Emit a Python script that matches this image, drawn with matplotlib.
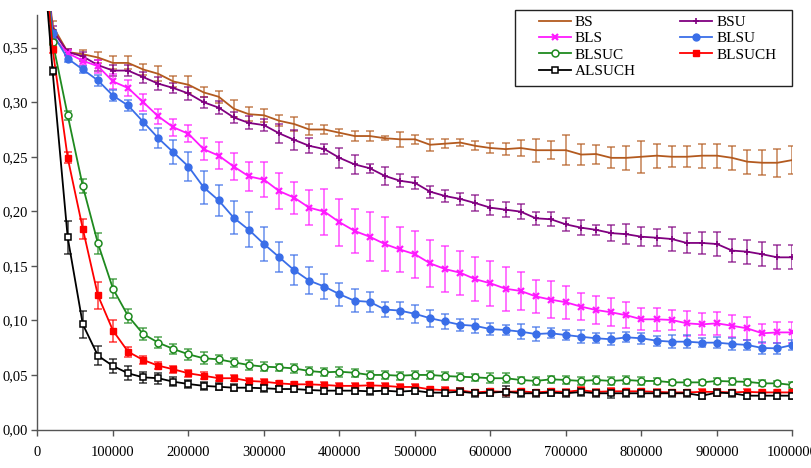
import numpy as np
import matplotlib
matplotlib.use('Agg')
import matplotlib.pyplot as plt
from matplotlib.ticker import FuncFormatter, MultipleLocator
from matplotlib.patches import Rectangle

plt.rcParams['font.family'] = ['Liberation Serif', 'DejaVu Serif']

# x positions: 0, 20000, ..., 1000000
x = np.arange(0, 1000001, 20000)

BS = [0.50, 0.370, 0.346, 0.344, 0.341, 0.336, 0.336, 0.330, 0.326, 0.319, 0.316,
      0.309, 0.305, 0.294, 0.289, 0.288, 0.283, 0.280, 0.275, 0.275, 0.272,
      0.269, 0.269, 0.267, 0.266, 0.266, 0.261, 0.262, 0.263, 0.260, 0.258,
      0.257, 0.258, 0.256, 0.256, 0.256, 0.252, 0.2525, 0.249, 0.249, 0.250,
      0.251, 0.250, 0.250, 0.251, 0.251, 0.249, 0.2455, 0.2445, 0.2445, 0.247]
BS_err = [0, 0.004, 0.003, 0.004, 0.005, 0.006, 0.006, 0.005, 0.007, 0.005, 0.008,
          0.0046, 0.0055, 0.008, 0.0064, 0.0058, 0.005, 0.006, 0.0048, 0.0037, 0.003,
          0.005, 0.005, 0.002, 0.007, 0.004, 0.0055, 0.004, 0.0035, 0.004, 0.0046,
          0.0053, 0.007, 0.0107, 0.0084, 0.0137, 0.0095, 0.0087, 0.0096, 0.011, 0.0148,
          0.011, 0.0098, 0.0098, 0.011, 0.011, 0.011, 0.011, 0.0113, 0.013, 0.0125]

BSU = [0.50, 0.366, 0.346, 0.342, 0.334, 0.329, 0.329, 0.323, 0.317, 0.313, 0.308,
       0.300, 0.295, 0.286, 0.281, 0.279, 0.2715, 0.2655, 0.260, 0.257, 0.249,
       0.243, 0.2395, 0.2325, 0.228, 0.226, 0.218, 0.214, 0.2113, 0.2075, 0.2033,
       0.2015, 0.1997, 0.1936, 0.1927, 0.188, 0.185, 0.183, 0.180, 0.179, 0.1767,
       0.1758, 0.1746, 0.171, 0.171, 0.170, 0.164, 0.163, 0.1606, 0.1578, 0.1578]
BSU_err = [0, 0.004, 0.003, 0.004, 0.005, 0.005, 0.005, 0.005, 0.006, 0.005, 0.006,
           0.005, 0.006, 0.005, 0.006, 0.0052, 0.0086, 0.009, 0.007, 0.0046, 0.009,
           0.0085, 0.004, 0.008, 0.006, 0.0055, 0.0055, 0.0055, 0.0052, 0.007, 0.0067,
           0.0066, 0.007, 0.006, 0.0064, 0.006, 0.007, 0.0046, 0.0073, 0.0093, 0.0087,
           0.008, 0.011, 0.0095, 0.0104, 0.0107, 0.0107, 0.011, 0.011, 0.011, 0.011]

BLS = [0.50, 0.360, 0.345, 0.338, 0.333, 0.319, 0.313, 0.300, 0.287, 0.277, 0.271,
       0.257, 0.251, 0.241, 0.232, 0.229, 0.2186, 0.2125, 0.2033, 0.1997, 0.190,
       0.182, 0.1767, 0.170, 0.165, 0.1606, 0.1523, 0.147, 0.1437, 0.1377, 0.134,
       0.129, 0.127, 0.122, 0.119, 0.1166, 0.1126, 0.1095, 0.1074, 0.1047, 0.101,
       0.101, 0.1004, 0.0973, 0.0964, 0.0973, 0.0951, 0.0927, 0.0882, 0.089, 0.089]
BLS_err = [0, 0.003, 0.003, 0.004, 0.006, 0.007, 0.0077, 0.0077, 0.007, 0.008, 0.0078,
           0.010, 0.0125, 0.012, 0.0133, 0.0163, 0.0165, 0.0147, 0.0163, 0.021, 0.0217,
           0.020, 0.0226, 0.025, 0.021, 0.0217, 0.0217, 0.021, 0.020, 0.020, 0.0205,
           0.020, 0.0176, 0.015, 0.017, 0.015, 0.0125, 0.0125, 0.0127, 0.0118, 0.0102,
           0.0105, 0.0095, 0.0116, 0.010, 0.0107, 0.0102, 0.0104, 0.0087, 0.0096, 0.0096]

BLSU = [0.50, 0.363, 0.340, 0.330, 0.320, 0.306, 0.297, 0.282, 0.267, 0.254, 0.241,
        0.222, 0.210, 0.194, 0.183, 0.170, 0.158, 0.146, 0.1364, 0.131, 0.124,
        0.118, 0.117, 0.110, 0.109, 0.106, 0.102, 0.099, 0.096, 0.095, 0.092,
        0.0912, 0.0897, 0.0875, 0.0882, 0.0866, 0.085, 0.0836, 0.0827, 0.0845, 0.0836,
        0.0814, 0.0805, 0.0805, 0.0796, 0.0796, 0.0784, 0.0775, 0.0747, 0.0744, 0.0775]
BLSU_err = [0, 0.003, 0.003, 0.003, 0.005, 0.005, 0.005, 0.0073, 0.009, 0.011, 0.0135,
            0.015, 0.0145, 0.015, 0.016, 0.016, 0.0135, 0.014, 0.0125, 0.0116, 0.0107,
            0.0107, 0.0093, 0.0072, 0.0076, 0.008, 0.0076, 0.0066, 0.0053, 0.0064, 0.0058,
            0.005, 0.0069, 0.0066, 0.0046, 0.0046, 0.006, 0.0047, 0.0053, 0.0046, 0.0053,
            0.0046, 0.006, 0.006, 0.004, 0.005, 0.0053, 0.0046, 0.0053, 0.005, 0.0043]

BLSUC = [0.50, 0.3555, 0.288, 0.223, 0.1707, 0.129, 0.104, 0.0875, 0.0796, 0.0738, 0.0689,
         0.0653, 0.0643, 0.0616, 0.0591, 0.0576, 0.057, 0.056, 0.0536, 0.0524, 0.053,
         0.052, 0.050, 0.050, 0.0493, 0.050, 0.050, 0.049, 0.0484, 0.0478, 0.047,
         0.047, 0.0454, 0.0445, 0.046, 0.0454, 0.0445, 0.0454, 0.0445, 0.0454, 0.0445,
         0.0445, 0.0432, 0.0432, 0.0432, 0.0445, 0.044, 0.0437, 0.0423, 0.0423, 0.0408]
BLSUC_err = [0, 0.003, 0.004, 0.0066, 0.0096, 0.0087, 0.006, 0.0053, 0.005, 0.0046, 0.005,
             0.0053, 0.004, 0.004, 0.0043, 0.0043, 0.0034, 0.0038, 0.004, 0.0038, 0.0046,
             0.0037, 0.0034, 0.0038, 0.0038, 0.0038, 0.0035, 0.0038, 0.003, 0.003, 0.0045,
             0.0046, 0.003, 0.0038, 0.003, 0.0037, 0.0038, 0.0037, 0.0038, 0.0034, 0.0035,
             0.0025, 0.0026, 0.0026, 0.0026, 0.0028, 0.0028, 0.0029, 0.0028, 0.0025, 0.0025]

BLSUCH = [0.50, 0.349, 0.249, 0.184, 0.123, 0.0906, 0.0713, 0.0637, 0.0585, 0.0552, 0.0515,
          0.0493, 0.047, 0.047, 0.0445, 0.0438, 0.0423, 0.0414, 0.0414, 0.0408, 0.040,
          0.040, 0.0405, 0.040, 0.039, 0.039, 0.0368, 0.036, 0.0357, 0.034, 0.035,
          0.0345, 0.035, 0.034, 0.035, 0.0345, 0.036, 0.0345, 0.035, 0.035, 0.035,
          0.0345, 0.034, 0.034, 0.0345, 0.0345, 0.034, 0.0345, 0.034, 0.034, 0.034]
BLSUCH_err = [0, 0.004, 0.005, 0.009, 0.0125, 0.010, 0.0046, 0.004, 0.003, 0.003, 0.003,
              0.003, 0.003, 0.003, 0.0025, 0.0025, 0.0025, 0.0025, 0.0025, 0.0025, 0.0025,
              0.0025, 0.0025, 0.0025, 0.0025, 0.0025, 0.0025, 0.0025, 0.0025, 0.0025, 0.0025,
              0.0025, 0.0025, 0.0025, 0.0025, 0.0025, 0.003, 0.0025, 0.003, 0.0025, 0.0025,
              0.0025, 0.0025, 0.0025, 0.0025, 0.0025, 0.0025, 0.0025, 0.0025, 0.0025, 0.0025]

ALSUCH = [0.50, 0.3285, 0.176, 0.0964, 0.0677, 0.0582, 0.0515, 0.0478, 0.047, 0.0438, 0.0417,
          0.040, 0.0392, 0.0383, 0.0383, 0.0378, 0.0371, 0.0371, 0.0362, 0.0356, 0.0356,
          0.0356, 0.035, 0.0356, 0.0347, 0.0356, 0.0338, 0.0338, 0.0347, 0.0332, 0.0338,
          0.0347, 0.0332, 0.0332, 0.0338, 0.0332, 0.0344, 0.0332, 0.0332, 0.0332, 0.0332,
          0.0332, 0.0332, 0.0332, 0.031, 0.0338, 0.0332, 0.031, 0.031, 0.031, 0.031]
ALSUCH_err = [0, 0.004, 0.015, 0.0125, 0.009, 0.006, 0.0064, 0.005, 0.005, 0.004, 0.004,
              0.0035, 0.003, 0.003, 0.003, 0.003, 0.003, 0.003, 0.003, 0.003, 0.003,
              0.003, 0.003, 0.003, 0.003, 0.003, 0.003, 0.003, 0.003, 0.003, 0.003,
              0.005, 0.003, 0.003, 0.003, 0.003, 0.004, 0.003, 0.004, 0.003, 0.003,
              0.003, 0.003, 0.003, 0.003, 0.003, 0.003, 0.003, 0.003, 0.003, 0.003]

series = [
    ("BS", BS, BS_err, dict(color='#B35A1F', marker=None)),
    ("BSU", BSU, BSU_err, dict(color='#800080', marker='+', ms=5, mew=1.2)),
    ("BLS", BLS, BLS_err, dict(color='#FF1AFF', marker='x', ms=4.5, mew=1.6)),
    ("BLSU", BLSU, BLSU_err, dict(color='#3A6EE8', marker='o', ms=5)),
    ("BLSUC", BLSUC, BLSUC_err, dict(color='#1F8A1F', marker='o', ms=5, mfc='white', mew=1.1)),
    ("BLSUCH", BLSUCH, BLSUCH_err, dict(color='#FF0000', marker='s', ms=5)),
    ("ALSUCH", ALSUCH, ALSUCH_err, dict(color='#000000', marker='s', ms=5, mfc='white', mew=1.1)),
]

fig = plt.figure(figsize=(8.12, 4.68), dpi=100)
ax = fig.add_axes([37.5 / 812, 1 - 429.5 / 468, 755 / 812, 418.5 / 468])

handles = {}
for name, vals, errs, st in series:
    c = st['color']
    ax.errorbar(x, vals, yerr=errs, fmt='none', ecolor=c, alpha=0.65,
                elinewidth=1.3, capsize=3.2, capthick=1.3, zorder=2)
    kw = dict(st)
    kw.pop('color')
    line, = ax.plot(x, vals, color=c, lw=1.3, zorder=3, label=name, **kw)
    handles[name] = line

ax.set_xlim(0, 1000000)
ax.set_ylim(0, 0.3836)
ax.spines['left'].set_bounds(0, 0.38)
for s in ['top', 'right']:
    ax.spines[s].set_visible(False)
for s in ['left', 'bottom']:
    ax.spines[s].set_color('#555555')
    ax.spines[s].set_linewidth(1.0)

ax.xaxis.set_major_locator(MultipleLocator(100000))
ax.set_yticks(np.arange(0, 0.351, 0.05))
ax.xaxis.set_major_formatter(FuncFormatter(lambda v, p: f"{int(round(v))}"))
ax.yaxis.set_major_formatter(FuncFormatter(lambda v, p: f"{v:.2f}".replace('.', ',')))
ax.tick_params(axis='both', direction='out', length=4, width=1, color='#555555',
               labelsize=10.5, labelcolor='black')
ax.tick_params(axis='x', pad=8)
ax.tick_params(axis='y', pad=3)

order = ["BS", "BLS", "BLSUC", "ALSUCH", "BSU", "BLSU", "BLSUCH"]
leg = fig.legend([handles[n] for n in order], order, loc='upper left',
                 bbox_to_anchor=(539 / 812, 1 - 15.5 / 468), ncol=2, frameon=False,
                 fontsize=11, handlelength=2.1, handletextpad=0.25,
                 columnspacing=2.9, labelspacing=0.17, borderpad=0, borderaxespad=0)
fig.patches.append(Rectangle((515 / 812, 1 - 86 / 468), 277 / 812, 76 / 468,
                             transform=fig.transFigure, fill=True, facecolor='white',
                             edgecolor='#222222', lw=1.0, zorder=0))

fig.savefig('out.png', dpi=100)
